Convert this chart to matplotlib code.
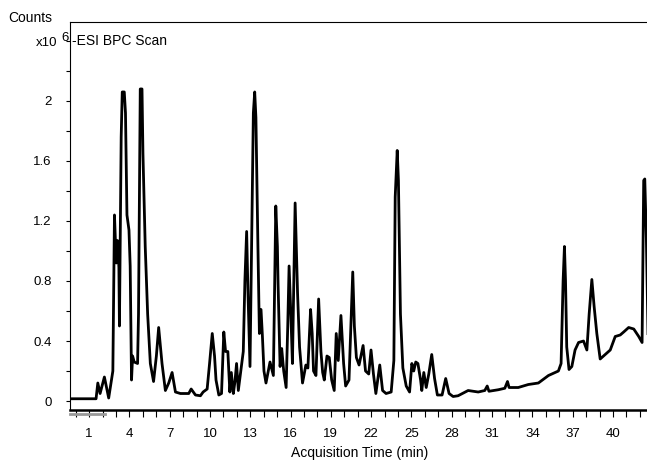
import matplotlib
matplotlib.use("Agg")
import matplotlib.pyplot as plt
from matplotlib.ticker import MultipleLocator, FixedLocator

plt.rcParams['font.family'] = ['Liberation Sans', 'DejaVu Sans']

# BPC trace: time (min), counts (x10^6)
time_min = [
    -0.42, 1.52, 1.65, 1.82, 2.14, 2.46, 2.77, 2.89, 3.02, 3.11, 3.22, 3.26,
    3.39, 3.47, 3.62, 3.71, 3.82, 3.97, 4.06, 4.16, 4.24, 4.36, 4.61, 4.68,
    4.81, 4.94, 5.01, 5.18, 5.36, 5.56, 5.80, 6.01, 6.18, 6.43, 6.68, 6.93,
    7.18, 7.43, 7.80, 8.42, 8.60, 8.92, 9.29, 9.49, 9.79, 9.97, 10.17, 10.34,
    10.45, 10.66, 10.86, 11.03, 11.16, 11.33, 11.48, 11.59, 11.74, 11.86, 11.98, 12.11,
    12.28, 12.48, 12.60, 12.73, 12.83, 12.98, 13.10, 13.23, 13.33, 13.42, 13.57, 13.68,
    13.80, 13.90, 14.02, 14.17, 14.47, 14.72, 14.90, 15.02, 15.07, 15.22, 15.34, 15.49,
    15.67, 15.79, 15.89, 16.02, 16.14, 16.24, 16.34, 16.52, 16.67, 16.89, 17.14, 17.29,
    17.49, 17.61, 17.71, 17.89, 18.09, 18.26, 18.39, 18.51, 18.71, 18.88, 19.06, 19.25,
    19.40, 19.55, 19.75, 19.95, 20.10, 20.35, 20.63, 20.75, 20.90, 21.10, 21.40, 21.58,
    21.82, 21.99, 22.17, 22.35, 22.64, 22.85, 23.11, 23.49, 23.69, 23.79, 23.94, 24.03,
    24.18, 24.36, 24.61, 24.86, 25.03, 25.17, 25.32, 25.48, 25.68, 25.77, 25.92, 26.10,
    26.29, 26.51, 26.72, 26.93, 27.28, 27.55, 27.80, 28.10, 28.47, 29.22, 29.97, 30.46,
    30.64, 30.77, 31.46, 31.95, 32.15, 32.27, 32.95, 33.70, 34.45, 35.20, 35.94, 36.14,
    36.29, 36.39, 36.47, 36.56, 36.73, 36.94, 37.18, 37.44, 37.81, 38.06, 38.23, 38.43,
    38.60, 38.80, 39.05, 39.42, 39.80, 40.17, 40.54, 40.80, 41.17, 41.55, 41.92, 42.17,
    42.29, 42.37, 42.49, 42.61, 42.69,
]
counts = [
    0.015, 0.015, 0.12, 0.05, 0.16, 0.02, 0.20, 1.24, 0.92, 1.07, 0.89, 0.50,
    1.76, 2.06, 2.06, 1.92, 1.24, 1.14, 0.90, 0.14, 0.30, 0.26, 0.25, 0.58,
    2.08, 2.08, 1.65, 1.03, 0.58, 0.25, 0.13, 0.30, 0.49, 0.25, 0.07, 0.12,
    0.19, 0.06, 0.05, 0.05, 0.08, 0.04, 0.035, 0.06, 0.08, 0.25, 0.45, 0.30,
    0.14, 0.04, 0.05, 0.46, 0.33, 0.33, 0.06, 0.19, 0.05, 0.13, 0.25, 0.07,
    0.19, 0.33, 0.80, 1.13, 0.72, 0.23, 1.03, 1.92, 2.06, 1.89, 1.03, 0.45,
    0.61, 0.44, 0.20, 0.12, 0.26, 0.17, 1.30, 1.03, 0.78, 0.23, 0.35, 0.20,
    0.09, 0.50, 0.90, 0.58, 0.25, 0.80, 1.32, 0.72, 0.36, 0.12, 0.24, 0.22,
    0.61, 0.45, 0.20, 0.17, 0.68, 0.33, 0.19, 0.14, 0.30, 0.29, 0.14, 0.07,
    0.45, 0.27, 0.57, 0.25, 0.10, 0.14, 0.86, 0.50, 0.29, 0.24, 0.37, 0.20,
    0.18, 0.34, 0.18, 0.05, 0.24, 0.07, 0.05, 0.06, 0.27, 1.36, 1.67, 1.47,
    0.58, 0.22, 0.10, 0.06, 0.25, 0.20, 0.26, 0.25, 0.14, 0.07, 0.19, 0.09,
    0.18, 0.31, 0.15, 0.04, 0.04, 0.15, 0.05, 0.03, 0.035, 0.07, 0.06, 0.07,
    0.10, 0.065, 0.075, 0.085, 0.13, 0.09, 0.09, 0.11, 0.12, 0.17, 0.20, 0.25,
    0.80, 1.03, 0.80, 0.36, 0.21, 0.23, 0.34, 0.39, 0.40, 0.34, 0.58, 0.81,
    0.63, 0.45, 0.28, 0.31, 0.34, 0.43, 0.44, 0.46, 0.49, 0.48, 0.43, 0.39,
    1.47, 1.48, 1.08, 0.45, 0.26,
]

x_labels = [1, 4, 7, 10, 13, 16, 19, 22, 25, 28, 31, 34, 37, 40]
y_labels = [0, 0.4, 0.8, 1.2, 1.6, 2.0]

fig = plt.figure(figsize=(6.47, 4.61), dpi=100)
ax = fig.add_axes([0.1082, 0.1106, 0.895, 0.8406])

ax.plot(time_min, counts, color='black', linewidth=2.0, solid_joinstyle='round')

ax.set_xlim(-0.42, 42.69)
ax.set_ylim(-0.06, 2.523)

ax.xaxis.set_major_locator(FixedLocator(x_labels))
ax.xaxis.set_minor_locator(MultipleLocator(1))
ax.set_xticklabels([str(v) for v in x_labels])
ax.yaxis.set_major_locator(FixedLocator(y_labels))
ax.yaxis.set_minor_locator(MultipleLocator(0.2))
ax.set_yticklabels(['0', '0.4', '0.8', '1.2', '1.6', '2'])

ax.tick_params(axis='x', which='both', direction='out', length=5, width=0.8,
               labelsize=9.5, pad=8)
ax.tick_params(axis='y', which='both', direction='out', length=3, width=0.8,
               labelsize=9.5, pad=10)

ax.spines['right'].set_visible(False)
ax.spines['top'].set_linewidth(0.8)
ax.spines['left'].set_linewidth(0.8)
ax.spines['bottom'].set_linewidth(1.8)

# grey range bar under the time axis
ax.plot([0, 0.06], [-0.009, -0.009], transform=ax.transAxes, color='#999999',
        linewidth=2, clip_on=False)

ax.set_xlabel('Acquisition Time (min)', fontsize=10, labelpad=4)
ax.text(0.004, 0.953, '-ESI BPC Scan', transform=ax.transAxes, fontsize=10,
        ha='left', va='center')

fig.text(8 / 647, 1 - 18 / 461, 'Counts', fontsize=10, ha='left', va='center')
fig.text(57 / 647, 1 - 43 / 461, 'x10', fontsize=9.5, ha='right', va='center')
fig.text(61 / 647, 1 - 38 / 461, '6', fontsize=9.5, ha='left', va='center')

fig.savefig('out.png', dpi=100)
